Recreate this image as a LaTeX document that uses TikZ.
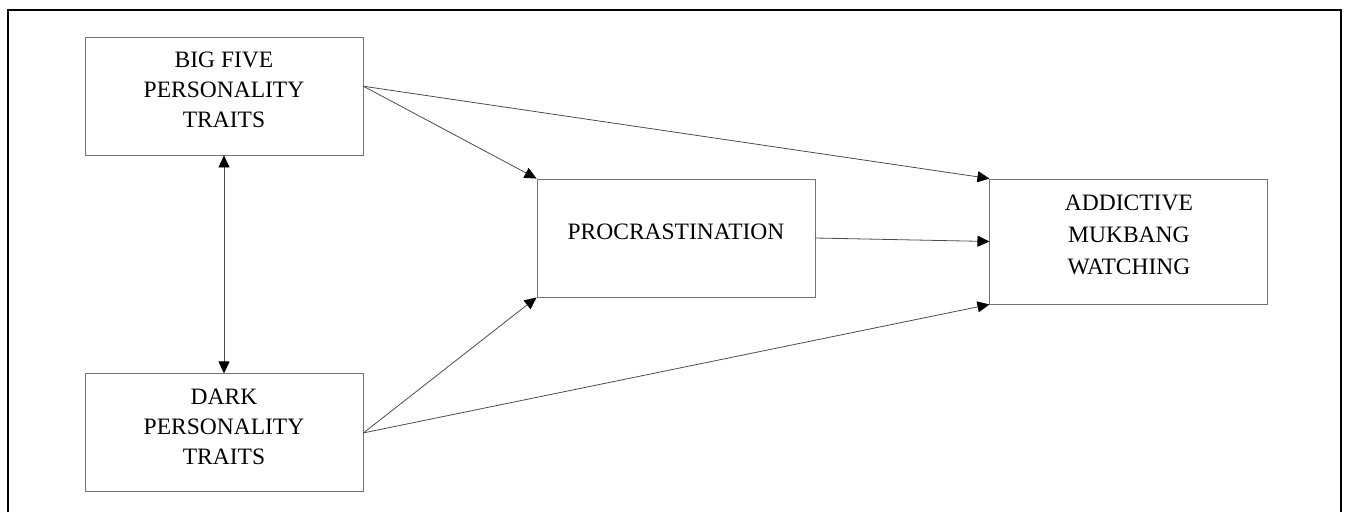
\documentclass[tikz,border=0pt]{standalone}
\usepackage{fontspec}
\setmainfont{Liberation Serif}
\usetikzlibrary{positioning,arrows.meta}

\begin{document}
\begin{tikzpicture}[x=1pt,y=-1pt,
traitbox/.style={rectangle, draw=black!55, line width=0.9pt, minimum width=278pt, minimum height=118pt, align=center, text depth=13pt, font=\fontsize{23.5}{30}\selectfont},
link/.style={draw=black!70, line width=0.8pt, -{Triangle[length=12pt,width=11pt,color=black]}},
]
\useasboundingbox (0,0) rectangle (1345,512);
%Frame
\draw[line width=1.2pt] (8,512) -- (8,10) -- (1341,10) -- (1341,512);

%Nodes
\node[traitbox]      (bigfive)  at (224,96)           {BIG FIVE\\PERSONALITY\\TRAITS};
\node[traitbox]      (dark)     [below=218pt of bigfive] {DARK\\PERSONALITY\\TRAITS};
\node[traitbox]      (procr)    at (676,238)          {PROCRASTINATION};
\node[traitbox, minimum height=125pt, font=\fontsize{23.5}{32}\selectfont]
                     (mukbang)  [right=174pt of procr, yshift=-3.5pt] {ADDICTIVE\\MUKBANG\\WATCHING};

%Lines
\draw[link, {Triangle[length=12pt,width=11pt,color=black]}-{Triangle[length=12pt,width=11pt,color=black]}] (bigfive.south) -- (dark.north);
\draw[link] (bigfive.4.5) -- (procr.north west);
\draw[link] (bigfive.4.5) -- (mukbang.north west);
\draw[link] (dark.east) -- (procr.south west);
\draw[link] (dark.east) -- (mukbang.south west);
\draw[link] (procr.east) -- (mukbang.west);

\end{tikzpicture}
\end{document}
